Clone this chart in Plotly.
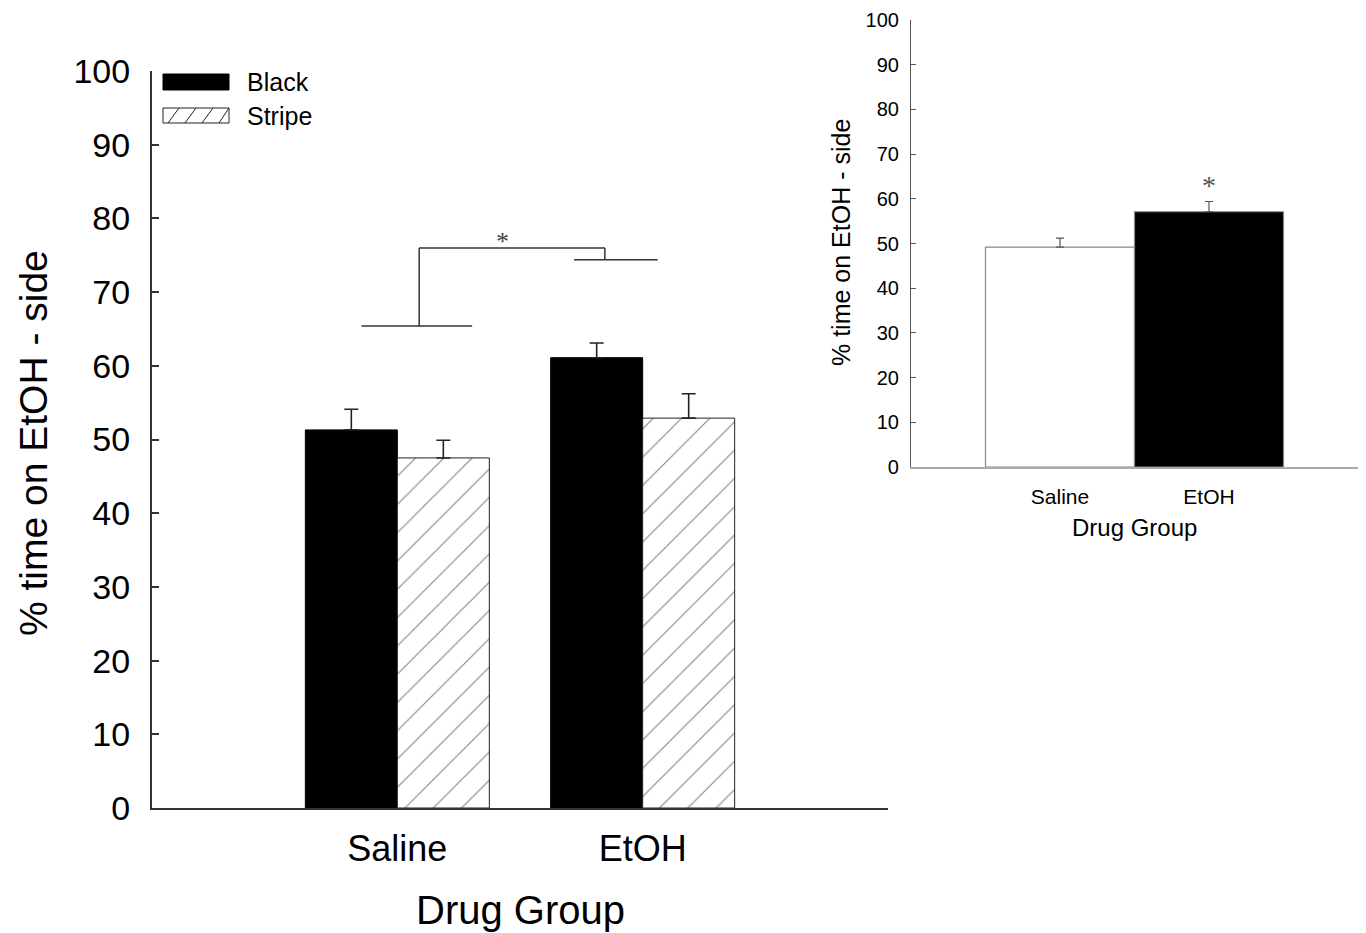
import plotly.graph_objects as go

# page body has an 8px margin; compensate
OFF = 8
W, H = 1358, 925

# ---------------- data ----------------
groups = ["Saline", "EtOH"]
black_vals = [51.3, 61.1]
black_err = [2.8, 2.0]
stripe_vals = [47.5, 52.9]
stripe_err = [2.4, 3.3]

inset_groups = ["Saline", "EtOH"]
inset_vals = [49.2, 57.1]
inset_err = [2.0, 2.3]

y_ticks = list(range(0, 101, 10))
y_title = "% time on EtOH - side"
x_title = "Drug Group"

FONT = "Liberation Sans, Arial, sans-serif"


def px(x):
    return (x - OFF) / W


def py(y):
    return 1 - (y - OFF) / H


fig = go.Figure()

fig.add_trace(go.Bar(
    x=groups, y=black_vals, name="Black",
    marker=dict(color="black", line=dict(color="black", width=1)),
    error_y=dict(type="data", array=black_err, arrayminus=[0, 0], symmetric=False,
                 color="#222", thickness=1.6, width=7),
    xaxis="x", yaxis="y", showlegend=False,
))
fig.add_trace(go.Bar(
    x=groups, y=stripe_vals, name="Stripe",
    marker=dict(color="white", line=dict(color="#222", width=1),
                pattern=dict(shape="/", fgcolor="#111", bgcolor="white", size=20, solidity=0.06)),
    error_y=dict(type="data", array=stripe_err, arrayminus=[0, 0], symmetric=False,
                 color="#222", thickness=1.6, width=7),
    xaxis="x", yaxis="y", showlegend=False,
))

fig.add_trace(go.Bar(
    x=inset_groups, y=inset_vals, width=[1.0, 1.0],
    marker=dict(color=["white", "black"], line=dict(color="#888", width=1.2)),
    error_y=dict(type="data", array=inset_err, arrayminus=[0, 0], symmetric=False,
                 color="#555", thickness=1.2, width=4),
    xaxis="x2", yaxis="y2", showlegend=False,
))

fig.update_layout(
    width=W, height=H,
    margin=dict(l=0, r=0, t=0, b=0),
    paper_bgcolor="white", plot_bgcolor="white",
    barmode="group", bargap=0.25, bargroupgap=0,
    font=dict(family=FONT, color="black"),
    xaxis=dict(domain=[px(152), px(888)], anchor="y", type="category",
               categoryorder="array", categoryarray=groups, range=[-1, 2],
               showline=True, linecolor="#333", linewidth=2, ticks="",
               showgrid=False, zeroline=False, tickfont=dict(size=36),
               ticklabelstandoff=8, automargin=False),
    yaxis=dict(domain=[py(808), py(71)], anchor="x", range=[0, 100],
               tickvals=y_ticks, showline=True, linecolor="#333", linewidth=2,
               ticks="inside", ticklen=7, tickwidth=2, tickcolor="#333",
               showgrid=False, zeroline=False, tickfont=dict(size=34),
               ticklabelstandoff=13, automargin=False),
    xaxis2=dict(domain=[px(911), px(1358)], anchor="y2", type="category",
                categoryorder="array", categoryarray=inset_groups, range=[-1, 2],
                showline=True, linecolor="#aaa", linewidth=1.5, ticks="",
                showgrid=False, zeroline=False, tickfont=dict(size=21),
                ticklabelstandoff=10, automargin=False),
    yaxis2=dict(domain=[py(467), py(20)], anchor="x2", range=[0, 100],
                tickvals=y_ticks, showline=True, linecolor="#555", linewidth=1.2,
                ticks="inside", ticklen=5, tickwidth=1, tickcolor="#555",
                showgrid=False, zeroline=False, tickfont=dict(size=20),
                ticklabelstandoff=7, automargin=False),
)

# significance bracket (main)
bracket_color = "#333"
seg = [
    (-0.146, 65.4, 0.305, 65.4),
    (0.089, 65.4, 0.089, 76.0),
    (0.089, 76.0, 0.846, 76.0),
    (0.846, 76.0, 0.846, 74.4),
    (0.72, 74.4, 1.061, 74.4),
]
for x0, y0, x1, y1 in seg:
    fig.add_shape(type="line", xref="x", yref="y", x0=x0, y0=y0, x1=x1, y1=y1,
                  line=dict(color=bracket_color, width=1.5))

fig.add_annotation(xref="x", yref="y", x=0.43, y=77.0, text="*", showarrow=False,
                   font=dict(family="Liberation Serif, Times New Roman, serif", size=26, color="#444"),
                   yanchor="bottom", yshift=-17)
fig.add_annotation(xref="x2", yref="y2", x=1, y=61.0, text="*", showarrow=False,
                   font=dict(family="Liberation Serif, Times New Roman, serif", size=28, color="#555"),
                   yanchor="bottom", yshift=-9)

# manual legend
fig.add_shape(type="rect", xref="paper", yref="paper",
              x0=px(163), x1=px(229), y0=py(90), y1=py(74),
              fillcolor="black", line=dict(color="black", width=1))
fig.add_shape(type="rect", xref="paper", yref="paper",
              x0=px(163), x1=px(229), y0=py(123), y1=py(108),
              fillcolor="white", line=dict(color="#222", width=1))
for hx in [168, 185, 202, 219]:
    xs, xe = hx, min(hx + 11, 229)
    fig.add_shape(type="line", xref="paper", yref="paper",
                  x0=px(xs), y0=py(123), x1=px(xe), y1=py(108),
                  line=dict(color="#222", width=1))
fig.add_annotation(xref="paper", yref="paper", x=px(245), y=py(82), text="Black",
                   showarrow=False, xanchor="left", yanchor="middle", font=dict(size=25))
fig.add_annotation(xref="paper", yref="paper", x=px(245), y=py(116), text="Stripe",
                   showarrow=False, xanchor="left", yanchor="middle", font=dict(size=25))

# axis titles
fig.add_annotation(xref="paper", yref="paper", x=px(33), y=py(443), text=y_title,
                   textangle=-90, showarrow=False, xanchor="center", yanchor="middle",
                   font=dict(size=39))
fig.add_annotation(xref="paper", yref="paper", x=px(520), y=py(910), text=x_title,
                   showarrow=False, xanchor="center", yanchor="middle", font=dict(size=40))
fig.add_annotation(xref="paper", yref="paper", x=px(841), y=py(243), text=y_title,
                   textangle=-90, showarrow=False, xanchor="center", yanchor="middle",
                   font=dict(size=25))
fig.add_annotation(xref="paper", yref="paper", x=px(1134), y=py(527), text=x_title,
                   showarrow=False, xanchor="center", yanchor="middle", font=dict(size=24))

fig.write_html("out.html")
